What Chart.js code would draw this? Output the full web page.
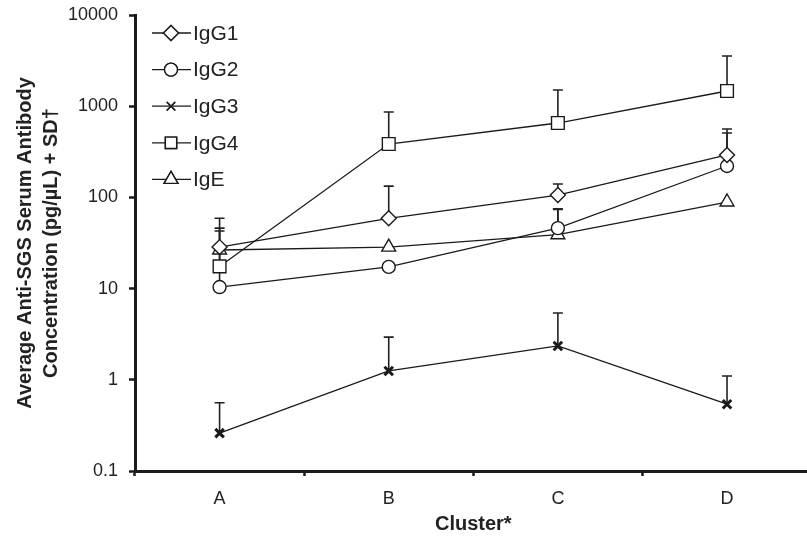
<!DOCTYPE html>
<html>
<head>
<meta charset="utf-8">
<script src="https://cdn.jsdelivr.net/npm/chart.js@4.4.1/dist/chart.umd.min.js"></script>
<style>
  html, body { margin: 0; padding: 0; background: #fff; overflow: hidden; }
  #wrap { width: 822px; height: 536px; position: relative; }
</style>
</head>
<body>
<div id="wrap"><canvas id="myChart"></canvas></div>
<script>
var clusters = ['A', 'B', 'C', 'D'];
var yTicks = [0.1, 1, 10, 100, 1000, 10000];

var seriesNames = ['IgG1', 'IgG2', 'IgG3', 'IgG4', 'IgE'];
var igg1 = [28.5, 59, 106, 292];
var igg2 = [10.4, 17.3, 46, 221];
var igg3 = [0.26, 1.25, 2.35, 0.54];
var igg4 = [17.5, 385, 654, 1468];
var ige = [26.5, 28.5, 39, 89];

// mean + SD (top of each error bar), null where hidden
var igg1Top = [59, 133, 140, 562];
var igg2Top = [46, null, 75, 508];
var igg3Top = [0.56, 2.94, 5.4, 1.1];
var igg4Top = [42.8, 863, 1506, 3550];
var igeTop = [null, null, 74, null];

var ink = '#1a1a1a';
var fontFam = '"Liberation Sans", Arial, sans-serif';

function series(label, data, tops, style, radius, bw) {
    return {
        label: label,
        data: data,
        errTop: tops,
        borderColor: ink,
        borderWidth: 1.3,
        pointStyle: style,
        pointRadius: radius,
        pointHoverRadius: radius,
        pointBackgroundColor: '#fff',
        pointBorderColor: ink,
        pointBorderWidth: bw,
        fill: false,
        tension: 0
    };
}

var datasets = [
    series(seriesNames[0], igg1, igg1Top, 'rectRot', 7.5, 1.4),
    series(seriesNames[1], igg2, igg2Top, 'circle', 6.5, 1.4),
    series(seriesNames[2], igg3, igg3Top, 'crossRot', 6, 3),
    series(seriesNames[3], igg4, igg4Top, 'rect', 9, 1.4),
    series(seriesNames[4], ige, igeTop, 'triangle', 8, 1.4)
];

var errorBars = {
    id: 'errorBars',
    beforeDatasetsDraw: function(chart) {
        var ctx = chart.ctx;
        var x = chart.scales.x, y = chart.scales.y;
        ctx.save();
        ctx.strokeStyle = '#222';
        ctx.lineWidth = 1.6;
        chart.data.datasets.forEach(function(ds) {
            ds.errTop.forEach(function(top, j) {
                if (top == null) return;
                var px = x.getPixelForValue(j);
                var p0 = y.getPixelForValue(ds.data[j]);
                var p1 = y.getPixelForValue(top);
                ctx.beginPath();
                ctx.moveTo(px, p0);
                ctx.lineTo(px, p1);
                ctx.moveTo(px - 5, p1);
                ctx.lineTo(px + 5, p1);
                ctx.stroke();
            });
        });
        ctx.restore();
    }
};

function marker(ctx, style, r, bw, x, y) {
    if (Chart.helpers && Chart.helpers.drawPoint) {
        ctx.lineWidth = bw;
        Chart.helpers.drawPoint(ctx, { pointStyle: style, radius: r, rotation: 0, borderWidth: bw }, x, y);
        ctx.fill();
        ctx.stroke();
    }
}

var insideLegend = {
    id: 'insideLegend',
    afterDraw: function(chart) {
        var ctx = chart.ctx;
        var left = chart.chartArea.left;
        var top = chart.chartArea.top;
        ctx.save();
        chart.data.datasets.forEach(function(ds, i) {
            var yy = top + 18 + i * 36.6;
            ctx.strokeStyle = ink;
            ctx.lineWidth = 1.3;
            ctx.beginPath();
            ctx.moveTo(left + 17, yy);
            ctx.lineTo(left + 56, yy);
            ctx.stroke();
            ctx.fillStyle = '#fff';
            ctx.strokeStyle = ink;
            var thin = ds.pointStyle === 'crossRot' ? 1.4 : ds.pointBorderWidth;
            marker(ctx, ds.pointStyle, Math.min(ds.pointRadius, 8), thin, left + 36, yy);
            ctx.fillStyle = '#222';
            ctx.font = '21px ' + fontFam;
            ctx.textBaseline = 'middle';
            ctx.textAlign = 'left';
            ctx.fillText(ds.label, left + 58, yy + 1);
        });
        ctx.restore();
    }
};

var ctx = document.getElementById('myChart');

var myChart = new Chart(ctx, {
    type: 'line',
    data: {
        labels: clusters,
        datasets: datasets
    },
    options: {
        responsive: true,
        maintainAspectRatio: false,
        animation: false,
        layout: { padding: { top: 15, right: 7, left: 0, bottom: 0 } },
        plugins: {
            legend: { display: false },
            tooltip: { enabled: false }
        },
        scales: {
            x: {
                type: 'category',
                offset: true,
                afterFit: function(scale) { scale.height = 65; },
                grid: {
                    offset: true,
                    drawOnChartArea: false,
                    drawTicks: true,
                    tickLength: 5,
                    tickWidth: 2.5,
                    color: ink
                },
                border: { display: true, color: ink, width: 3 },
                ticks: {
                    color: '#222',
                    padding: 12,
                    font: { family: fontFam, size: 18 }
                },
                title: {
                    display: true,
                    text: 'Cluster*',
                    color: '#222',
                    padding: { top: 0, bottom: 0 },
                    font: { family: fontFam, size: 20, weight: 'bold' }
                }
            },
            y: {
                type: 'logarithmic',
                min: yTicks[0],
                max: yTicks[yTicks.length - 1],
                afterFit: function(scale) {
                    scale.width = 135;
                    scale.paddingTop = 0;
                    scale.paddingBottom = 0;
                },
                afterBuildTicks: function(scale) {
                    scale.ticks = yTicks.map(function(v) { return { value: v }; });
                },
                grid: {
                    drawOnChartArea: false,
                    drawTicks: true,
                    tickLength: 6,
                    tickWidth: 2.5,
                    color: ink
                },
                border: { display: true, color: ink, width: 3 },
                ticks: {
                    color: '#222',
                    padding: 11,
                    autoSkip: false,
                    font: { family: fontFam, size: 18 },
                    callback: function(v) { return String(v); }
                },
                title: {
                    display: true,
                    text: ['Average Anti-SGS Serum Antibody', 'Concentration (pg/\u00b5L) + SD\u2020'],
                    color: '#222',
                    padding: { top: 12, bottom: 0 },
                    font: { family: fontFam, size: 20, weight: 'bold', lineHeight: 1.3 }
                }
            }
        }
    },
    plugins: [errorBars, insideLegend]
});
</script>
</body>
</html>
